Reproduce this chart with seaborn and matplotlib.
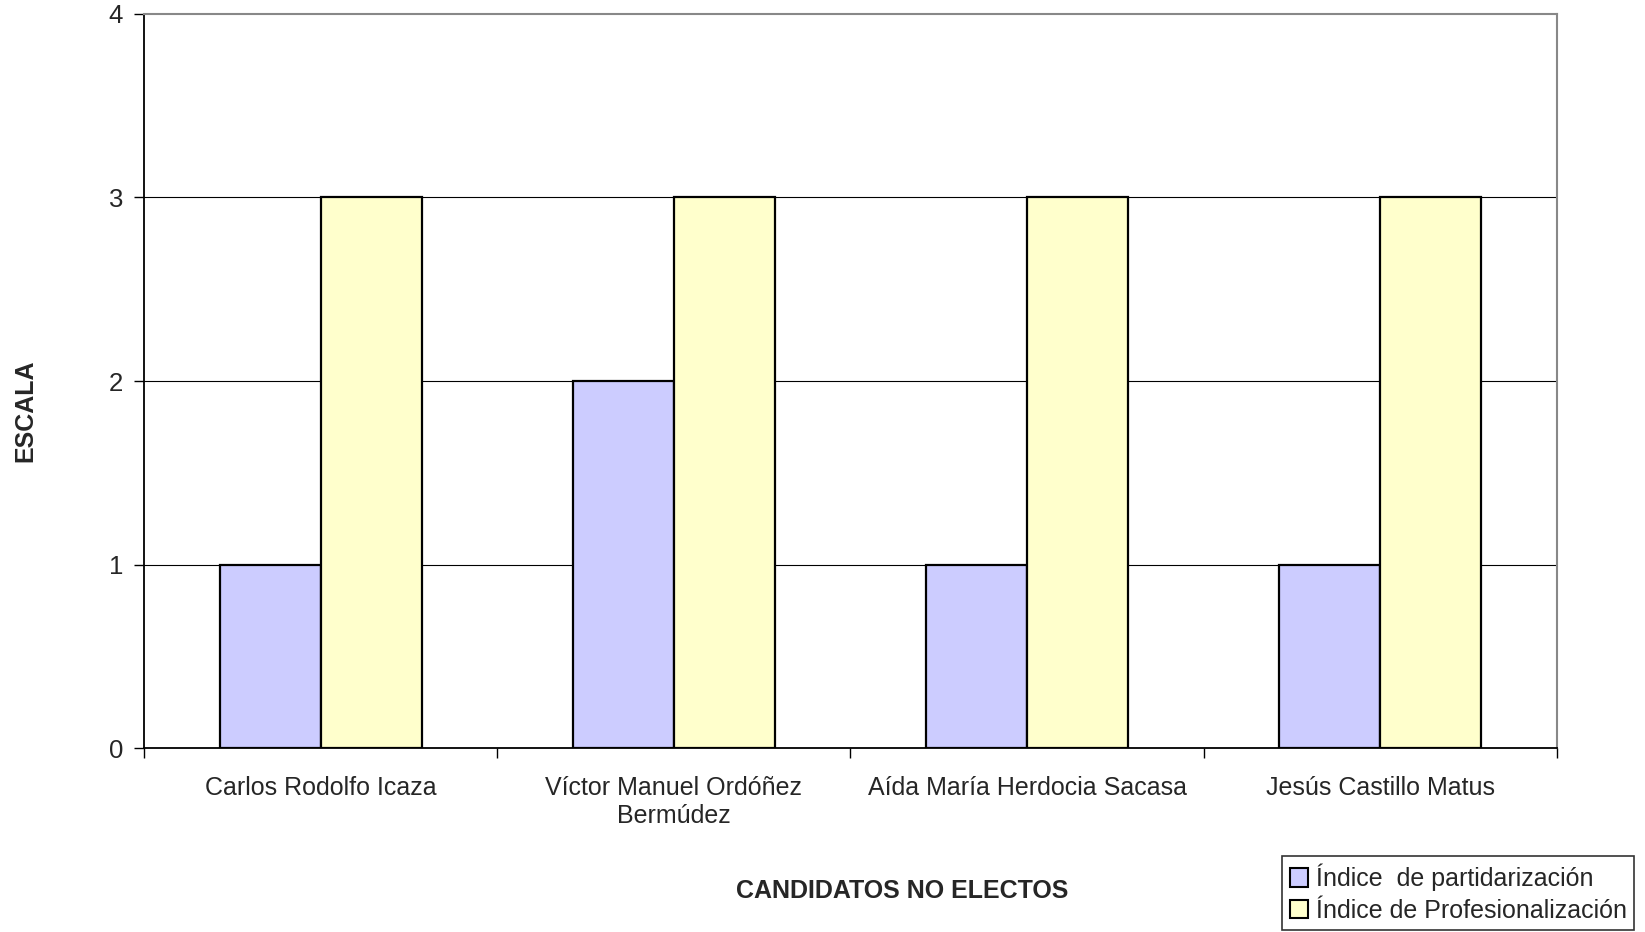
import matplotlib
matplotlib.use("Agg")
import matplotlib.pyplot as plt
import seaborn as sns
import pandas as pd
from matplotlib.patches import Patch

candidatos = ["Carlos Rodolfo Icaza", "Víctor Manuel Ordóñez\nBermúdez",
              "Aída María Herdocia Sacasa", "Jesús Castillo Matus"]
partidarizacion = [1, 2, 1, 1]
profesionalizacion = [3, 3, 3, 3]
series = ["Índice  de partidarización", "Índice de Profesionalización"]
colores = ["#CCCCFF", "#FFFFCC"]

df = pd.DataFrame({
    "candidato": candidatos * 2,
    "serie": [series[0]] * 4 + [series[1]] * 4,
    "valor": partidarizacion + profesionalizacion,
})

sns.set_theme(style="white")
plt.rcParams["font.family"] = ["Liberation Sans", "DejaVu Sans"]

fig = plt.figure(figsize=(16.45, 9.32), dpi=100)
ax = fig.add_axes([0.0875, 0.1974, 0.8590, 0.7876])

sns.barplot(data=df, x="candidato", y="valor", hue="serie", order=candidatos,
            hue_order=series, palette=colores, width=2 / 3.5, dodge=True,
            edgecolor="black", linewidth=1.6, saturation=1, legend=False, ax=ax,
            zorder=3)

ax.set_xlim(-0.5, 3.5)
ax.set_ylim(0, 4)
ax.set_yticks([0, 1, 2, 3, 4])
ax.set_yticklabels(["0", "1", "2", "3", "4"], fontsize=18.5)
for y in [1, 2, 3]:
    ax.axhline(y, color="black", linewidth=0.8, zorder=1)

# category boundaries as major ticks, names as minor ticks
ax.set_xticks([-0.5, 0.5, 1.5, 2.5, 3.5])
ax.set_xticklabels([])
ax.set_xticks(range(4), minor=True)
ax.set_xticklabels(candidatos, minor=True, fontsize=18, linespacing=1.2)
ax.tick_params(axis="x", which="major", direction="out", length=7, width=1,
               color="black", bottom=True)
ax.tick_params(axis="x", which="minor", length=0, pad=20)
ax.tick_params(axis="y", direction="out", length=7, width=1, color="black",
               left=True, pad=8)

for side in ["left", "bottom"]:
    ax.spines[side].set_color("black")
    ax.spines[side].set_linewidth(1.3)
for side in ["top", "right"]:
    ax.spines[side].set_visible(True)
    ax.spines[side].set_color("#888888")
    ax.spines[side].set_linewidth(1.5)

ax.set_xlabel("")
ax.set_ylabel("")
fig.text(0.5485, 0.044, "CANDIDATOS NO ELECTOS", ha="center", va="center",
         fontsize=18, fontweight="bold")
fig.text(0.0152, 0.559, "ESCALA", ha="center", va="center", rotation=90,
         fontsize=18, fontweight="bold")

handles = [Patch(facecolor=c, edgecolor="black", linewidth=1.5) for c in colores]
leg = fig.legend(handles, series, loc="lower right",
                 bbox_to_anchor=(0.9935, 0.002), fontsize=18, frameon=True,
                 fancybox=False, edgecolor="black", handlelength=0.75,
                 handleheight=0.75, handletextpad=0.3, borderpad=0.3,
                 labelspacing=0.3, borderaxespad=0)
leg.get_frame().set_linewidth(1.2)

fig.savefig("out.png", dpi=100, facecolor="white")
